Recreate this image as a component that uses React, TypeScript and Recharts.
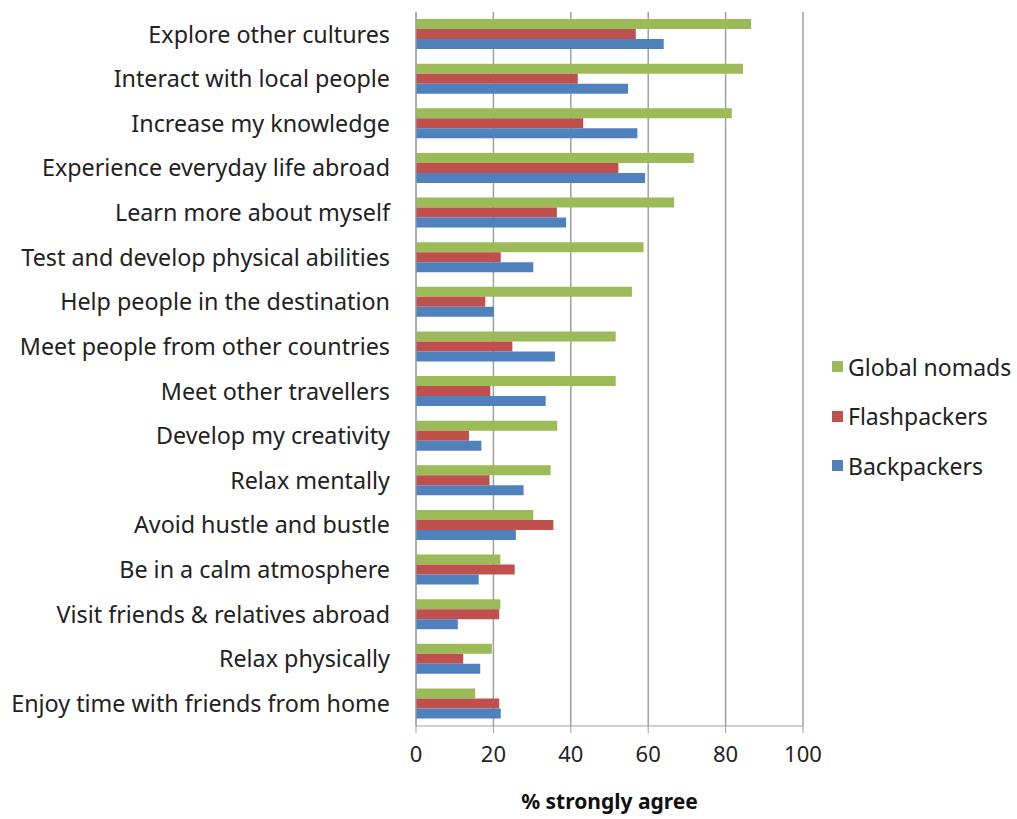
import { BarChart, Bar, XAxis, YAxis, CartesianGrid } from 'recharts';

const categories = [
  'Explore other cultures',
  'Interact with local people',
  'Increase my knowledge',
  'Experience everyday life abroad',
  'Learn more about myself',
  'Test and develop physical abilities',
  'Help people in the destination',
  'Meet people from other countries',
  'Meet other travellers',
  'Develop my creativity',
  'Relax mentally',
  'Avoid hustle and bustle',
  'Be in a calm atmosphere',
  'Visit friends & relatives abroad',
  'Relax physically',
  'Enjoy time with friends from home',
];

const globalNomads = [86.6, 84.5, 81.6, 71.8, 66.7, 58.8, 55.8, 51.6, 51.6, 36.5, 34.8, 30.3, 21.8, 21.8, 19.6, 15.3];
const flashpackers = [56.8, 41.8, 43.2, 52.3, 36.4, 21.9, 17.9, 24.9, 19.2, 13.7, 19.0, 35.5, 25.5, 21.5, 12.2, 21.5];
const backpackers = [64.0, 54.8, 57.2, 59.2, 38.8, 30.3, 20.1, 35.9, 33.5, 16.9, 27.8, 25.8, 16.2, 10.8, 16.6, 21.9];

const xTicks = [0, 20, 40, 60, 80, 100];

const series = [
  { key: 'global', name: 'Global nomads', color: '#9BBB59' },
  { key: 'flash', name: 'Flashpackers', color: '#C0504D' },
  { key: 'back', name: 'Backpackers', color: '#4F81BD' },
];

const FONT = '"Noto Sans", sans-serif';

const data = categories.map((c, i) => ({
  category: c,
  global: globalNomads[i],
  flash: flashpackers[i],
  back: backpackers[i],
}));

// legend drawn as plain html beside the plot, recharts' own legend eats plot space
const LegendBox = () => (
  <div style={{ position: 'absolute', left: 832, top: 342, fontFamily: FONT, fontSize: 23, color: '#222' }}>
    {series.map(s => (
      <div key={s.key} style={{ display: 'flex', alignItems: 'center', height: 49.5 }}>
        <span style={{ width: 11, height: 11, background: s.color, marginRight: 5, display: 'inline-block' }} />
        <span>{s.name}</span>
      </div>
    ))}
  </div>
);

export default function App() {
  return (
    <div style={{ position: 'absolute', left: 0, top: 0, width: 1017, height: 819, background: '#fff' }}>
      <BarChart
        width={1017}
        height={819}
        data={data}
        layout="vertical"
        margin={{ top: 12, right: 214, left: 0, bottom: 0 }}
        barCategoryGap={7}
        barGap={0}
      >
        <CartesianGrid horizontal={false} vertical stroke="#A0A0A0" strokeWidth={1.5} />
        <XAxis
          type="number"
          domain={[0, 100]}
          ticks={xTicks}
          height={93}
          stroke="#A0A0A0"
          tickSize={7}
          tickMargin={13}
          tick={{ fill: '#222', fontSize: 22, fontFamily: FONT }}
          label={{
            value: '% strongly agree',
            position: 'insideBottom',
            offset: 10,
            style: { fill: '#111', fontSize: 21, fontWeight: 'bold', fontFamily: FONT },
          }}
        />
        <YAxis
          type="category"
          dataKey="category"
          width={416}
          stroke="#A0A0A0"
          tickLine={false}
          tickSize={6}
          tickMargin={20}
          interval={0}
          tick={{ fill: '#222', fontSize: 23.3, fontFamily: FONT }}
        />
        {series.map(s => (
          <Bar key={s.key} dataKey={s.key} name={s.name} fill={s.color} isAnimationActive={false} />
        ))}
      </BarChart>
      <LegendBox />
    </div>
  );
}
